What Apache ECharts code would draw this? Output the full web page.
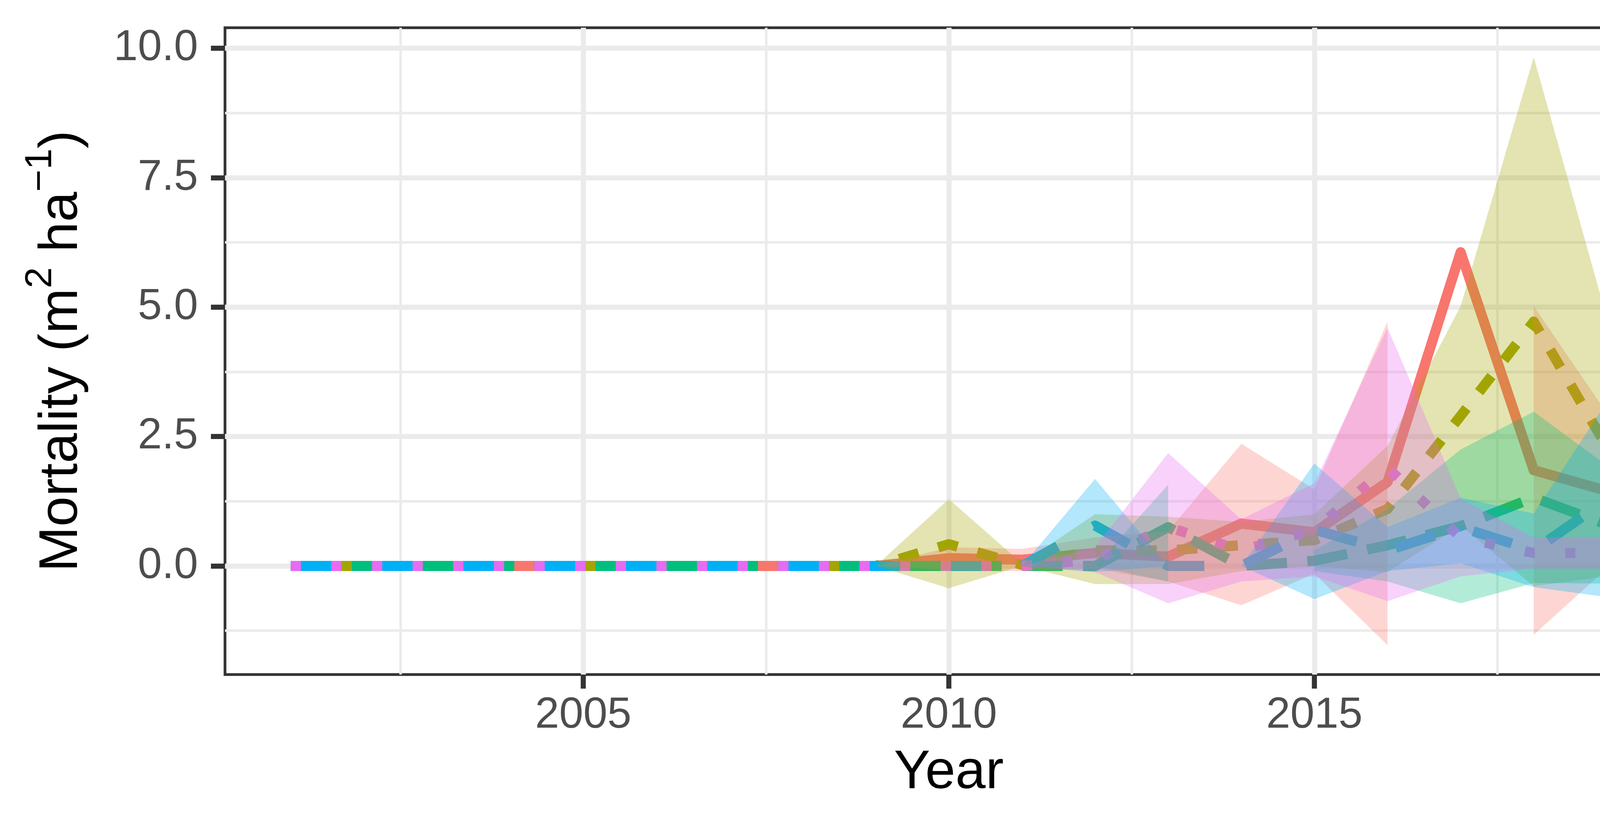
<!DOCTYPE html>
<html>
<head>
<meta charset="utf-8">
<script src="https://cdn.jsdelivr.net/npm/echarts@6/dist/echarts.min.js"></script>
<style>
  html, body { margin: 0; padding: 0; background: #ffffff; overflow: hidden; }
  #chart { width: 5314px; height: 2125px; }
</style>
</head>
<body>
<div id="chart"></div>
<script>
// Mortality by stand-age bin, mean line with ribbon (lo/hi)

const years = [2001, 2002, 2003, 2004, 2005, 2006, 2007, 2008, 2009, 2010,
               2011, 2012, 2013, 2014, 2015, 2016, 2017, 2018, 2019];
const bins = ['0-92', '93-119', '120-159', '160-209', '210+'];

// 0-92
const mean0to92 = [0, 0, 0, 0, 0, 0, 0, 0, 0, 0.15, 0.12, 0.25, 0.18, 0.82, 0.65, 1.62, 6.06, 1.85, 1.45];
const lo0to92   = [0, 0, 0, 0, 0, 0, 0, 0, 0, -0.08, -0.10, -0.05, -0.30, -0.76, -0.15, -1.53, null, -1.33, -0.05];
const hi0to92   = [0, 0, 0, 0, 0, 0, 0, 0, 0, 0.36, 0.33, 0.55, 0.67, 2.36, 1.48, 4.72, null, 5.02, 2.95];

// 93-119
const mean93to119 = [0, 0, 0, 0, 0, 0, 0, 0, 0, 0.42, 0.02, 0.30, 0.30, 0.40, 0.50, 1.10, 2.90, 4.72, 2.30];
const lo93to119   = [0, 0, 0, 0, 0, 0, 0, 0, 0, -0.43, 0, -0.35, -0.35, -0.10, 0, -0.12, 0.78, -0.39, -0.20];
const hi93to119   = [0, 0, 0, 0, 0, 0, 0, 0, 0, 1.29, 0.05, 1.00, 0.95, 0.85, 1.00, 2.32, 5.02, 9.83, 4.79];

// 120-159
const mean120to159 = [0, 0, 0, 0, 0, 0, 0, 0, 0, 0, 0, 0, 0.75, 0, 0.10, 0.40, 0.77, 1.32, 0.80];
const lo120to159   = [0, 0, 0, 0, 0, 0, 0, 0, 0, 0, 0, 0, -0.30, null, -0.10, -0.30, -0.72, -0.33, -0.34];
const hi120to159   = [0, 0, 0, 0, 0, 0, 0, 0, 0, 0, 0, 0, 1.57, null, 0.30, 1.10, 2.25, 2.98, 1.94];

// 160-209
const mean160to209 = [0, 0, 0, 0, 0, 0, 0, 0, 0, 0, 0, 0.78, 0, 0, 0.70, 0.30, 0.75, 0.30, 1.28];
const lo160to209   = [0, 0, 0, 0, 0, 0, 0, 0, 0, 0, 0, -0.12, 0, 0, -0.64, -0.10, 0.05, -0.41, -0.60];
const hi160to209   = [0, 0, 0, 0, 0, 0, 0, 0, 0, 0, 0, 1.68, 0, 0, 1.98, 0.75, 1.32, 1.01, 3.17];

// 210+
const mean210plus = [0, 0, 0, 0, 0, 0, 0, 0, 0, 0, 0, 0.12, 0.75, 0.30, 0.70, 1.90, 0.55, 0.25, 0.25];
const lo210plus   = [0, 0, 0, 0, 0, 0, 0, 0, 0, 0, 0, -0.12, -0.72, -0.30, -0.20, -0.68, -0.20, -0.05, -0.05];
const hi210plus   = [0, 0, 0, 0, 0, 0, 0, 0, 0, 0, 0, 0.36, 2.18, 0.90, 1.60, 4.60, 1.30, 0.55, 0.55];

// axis ticks
const xMajor = [2005, 2010, 2015];
const xMinor = [2002.5, 2007.5, 2012.5, 2017.5];
const yMajor = [0, 2.5, 5, 7.5, 10];
const yMinor = [-1.25, 1.25, 3.75, 6.25, 8.75];

const means = [mean0to92, mean93to119, mean120to159, mean160to209, mean210plus];
const lows  = [lo0to92, lo93to119, lo120to159, lo160to209, lo210plus];
const highs = [hi0to92, hi93to119, hi120to159, hi160to209, hi210plus];

// ggplot hue palette, ribbons at alpha 0.3
const binColors = ['#F8766D', '#A3A500', '#00BF7D', '#00B0F6', '#E76BF3'];
const binFills = ['rgba(248,118,109,0.3)', 'rgba(163,165,0,0.3)', 'rgba(0,191,125,0.3)',
                  'rgba(0,176,246,0.3)', 'rgba(231,107,243,0.3)'];
const binDashes = ['solid', [52, 52], [104, 52], [104, 104], [26, 78]];

const FONT = '"Liberation Sans", Arial, sans-serif';
const GRID = { left: 576, right: 1032, top: 71, bottom: 398 };
const X_MIN = 2000.1, X_MAX = 2019.9;
const Y_MIN = -2.098, Y_MAX = 10.398;

/**
 * Ribbon as a custom series: one polygon per run of non-null lo/hi
 */
function ribbonSeries(lo, hi, fill) {
  return {
    type: 'custom',
    silent: true,
    clip: true,
    z: 3,
    data: [[years[0], 0]],
    encode: { x: 0, y: 1 },
    renderItem: (params, api) => {
      const children = [];
      let run = [];
      const flush = () => {
        if (run.length > 1) {
          const top = run.map(i => api.coord([years[i], hi[i]]));
          const bottom = run.slice().reverse().map(i => api.coord([years[i], lo[i]]));
          children.push({
            type: 'polygon',
            shape: { points: top.concat(bottom) },
            style: { fill: fill }
          });
        }
        run = [];
      };
      years.forEach((y, i) => {
        if (lo[i] == null || hi[i] == null) flush();
        else run.push(i);
      });
      flush();
      return { type: 'group', children };
    }
  };
}

function lineSeries(mean, color, dash) {
  return {
    type: 'line',
    silent: true,
    z: 2,
    showSymbol: false,
    symbol: 'none',
    data: years.map((y, i) => [y, mean[i]]),
    lineStyle: { color: color, width: 26, type: dash, cap: 'butt', join: 'round' }
  };
}

/**
 * x-axis ticks as a custom series: short segments hanging under the panel,
 * positioned with the axis scale (clip off so they can sit outside the grid)
 */
function xTickSeries() {
  return {
    type: 'custom',
    silent: true,
    clip: false,
    z: 10,
    data: xMajor.map(v => [v, Y_MIN]),
    encode: { x: 0, y: 1 },
    renderItem: (params, api) => {
      const p = api.coord([api.value(0), Y_MIN]);
      return {
        type: 'line',
        shape: { x1: p[0], y1: p[1], x2: p[0], y2: p[1] + 36 },
        style: { stroke: '#333333', lineWidth: 13 }
      };
    }
  };
}

// lines first, ribbons drawn over them (as in the figure)
const series = [];
bins.forEach((b, k) => series.push(lineSeries(means[k], binColors[k], binDashes[k])));
bins.forEach((b, k) => series.push(ribbonSeries(lows[k], highs[k], binFills[k])));
series.push(xTickSeries());

// legend built by hand: filled key + line + label
const KEY_X = 4498, KEY_SIZE = 198, KEY_TOP = 466, KEY_PITCH = 216;
const legendGraphics = [{
  type: 'text',
  x: 4489, y: 325,
  style: { text: 'stdage.bin', fontSize: 139, fontFamily: FONT, fill: '#000000', verticalAlign: 'middle', align: 'left' }
}];
bins.forEach((b, k) => {
  const top = KEY_TOP + k * KEY_PITCH;
  const cy = top + KEY_SIZE / 2;
  legendGraphics.push({
    type: 'rect',
    shape: { x: KEY_X, y: top, width: KEY_SIZE, height: KEY_SIZE },
    style: { fill: binFills[k] }
  });
  legendGraphics.push({
    type: 'line',
    shape: { x1: KEY_X + 13, y1: cy, x2: KEY_X + KEY_SIZE - 13, y2: cy },
    style: {
      stroke: binColors[k], lineWidth: 26, lineCap: 'butt',
      lineDash: binDashes[k] === 'solid' ? null : binDashes[k]
    }
  });
  legendGraphics.push({
    type: 'text',
    x: 4773, y: cy,
    style: { text: b, fontSize: 111, fontFamily: FONT, fill: '#000000', verticalAlign: 'middle', align: 'left' }
  });
});

const tickLabel = { fontSize: 111, lineHeight: 111, color: '#4D4D4D', fontFamily: FONT };
const hidden = { show: false, onZero: false };

const chart = echarts.init(document.getElementById('chart'), null, { renderer: 'canvas' });
chart.setOption({
  animation: false,
  backgroundColor: '#ffffff',
  grid: Object.assign({ show: true, borderColor: '#333333', borderWidth: 7, backgroundColor: 'transparent' }, GRID),
  xAxis: [
    {
      type: 'value', min: X_MIN, max: X_MAX, position: 'bottom',
      axisLine: hidden,
      axisTick: { show: false, customValues: xMajor },
      axisLabel: Object.assign({ customValues: xMajor, margin: 50, formatter: v => String(v) }, tickLabel),
      splitLine: { show: true, lineStyle: { color: '#EBEBEB', width: 13 } },
      name: 'Year', nameLocation: 'middle', nameGap: 183,
      nameTextStyle: { fontSize: 139, lineHeight: 139, color: '#000000', fontFamily: FONT }
    },
    {
      type: 'value', min: X_MIN, max: X_MAX, position: 'top',
      axisLine: hidden,
      axisTick: { show: false, customValues: xMinor },
      axisLabel: { show: false, customValues: xMinor },
      splitLine: { show: true, lineStyle: { color: '#EBEBEB', width: 6.5 } }
    }
  ],
  yAxis: [
    {
      type: 'value', min: Y_MIN, max: Y_MAX, position: 'left',
      axisLine: hidden,
      axisTick: { show: true, customValues: yMajor, length: 36, lineStyle: { color: '#333333', width: 13 } },
      axisLabel: Object.assign({ customValues: yMajor, margin: 69, formatter: v => v.toFixed(1) }, tickLabel),
      splitLine: { show: true, lineStyle: { color: '#EBEBEB', width: 13 } },
      name: '{t|Mortality (m}{sup|2}{t| ha}{sup|\u22121}{t|)}',
      nameLocation: 'middle', nameGap: 348, nameRotate: 90,
      nameTextStyle: {
        color: '#000000', fontFamily: FONT, fontSize: 139,
        rich: {
          t: { fontSize: 139, lineHeight: 139, fontFamily: FONT, color: '#000000', verticalAlign: 'bottom' },
          sup: { fontSize: 97, lineHeight: 97, fontFamily: FONT, color: '#000000', verticalAlign: 'bottom', padding: [0, 0, 75, 0] }
        }
      }
    },
    {
      type: 'value', min: Y_MIN, max: Y_MAX, position: 'right',
      axisLine: hidden,
      axisTick: { show: false, customValues: yMinor },
      axisLabel: { show: false, customValues: yMinor },
      splitLine: { show: true, lineStyle: { color: '#EBEBEB', width: 6.5 } }
    }
  ],
  graphic: legendGraphics,
  series: series
});
</script>
</body>
</html>
